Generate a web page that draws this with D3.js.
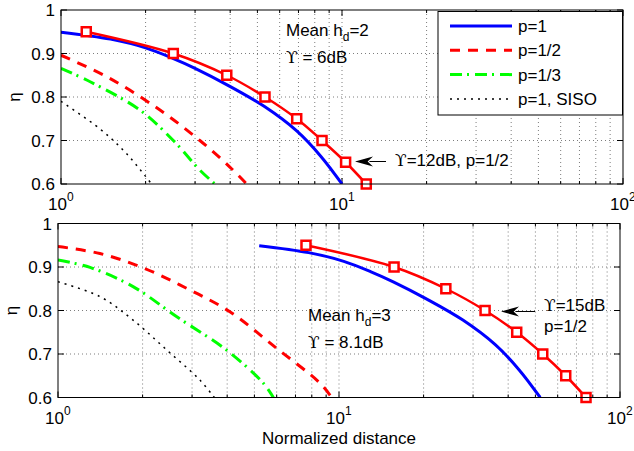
<!DOCTYPE html>
<html><head><meta charset="utf-8">
<script src="https://cdn.jsdelivr.net/npm/d3@7"></script>
<style>body{margin:0;background:#fff}svg{display:block}text{font-family:"Liberation Sans",Arial,Helvetica,sans-serif}.ups{font-family:"DejaVu Serif",serif}</style>
</head><body><svg id="c" width="634" height="451"></svg>
<script>
// ---- data ----
const yTicks = [0.6, 0.7, 0.8, 0.9, 1];
const yTickLabels = ["0.6", "0.7", "0.8", "0.9", "1"];
const xTicks = [1, 10, 100];
const xTickExp = ["0", "1", "2"];
const legendLabels = ["p=1", "p=1/2", "p=1/3", "p=1, SISO"];

// top panel (Mean h_d = 2)
const topBlueX = [1, 1.5, 2, 2.5, 3, 3.9, 5.3, 6.9, 8.4, 10];
const topBlueY = [0.949, 0.933, 0.913, 0.889, 0.866, 0.828, 0.778, 0.722, 0.664, 0.6];
const topMarkX = [1.23, 2.51, 3.89, 5.32, 6.9, 8.49, 10.3, 12.2];
const topMarkY = [0.95, 0.9, 0.85, 0.8, 0.75, 0.7, 0.65, 0.6];
const topRedX = [1, 1.49, 2.25, 3.12, 3.99, 4.58];
const topRedY = [0.896, 0.843, 0.77, 0.70, 0.639, 0.6];
const topGreenX = [1, 1.27, 1.91, 2.51, 3.12, 3.53];
const topGreenY = [0.866, 0.835, 0.77, 0.70, 0.632, 0.6];
const topBlackX = [1, 1.38, 1.71, 2.1];
const topBlackY = [0.79, 0.726, 0.67, 0.6];

// bottom panel (Mean h_d = 3)
const botBlueX = [5.2, 7.8, 10.4, 13.0, 15.6, 20.3, 27.6, 35.9, 43.7, 52.0];
const botBlueY = [0.949, 0.933, 0.913, 0.889, 0.866, 0.828, 0.778, 0.722, 0.664, 0.6];
const botMarkX = [7.63, 15.7, 24.0, 33.1, 42.9, 53.1, 64.1, 75.7];
const botMarkY = [0.95, 0.9, 0.85, 0.8, 0.75, 0.7, 0.65, 0.6];
const botRedX = [1, 1.41, 2.01, 2.87, 4.09, 6.0, 8.56, 9.42];
const botRedY = [0.947, 0.931, 0.898, 0.851, 0.797, 0.713, 0.633, 0.6];
const botGreenX = [1, 1.30, 1.85, 2.64, 3.98, 5.38, 5.84];
const botGreenY = [0.916, 0.899, 0.855, 0.786, 0.709, 0.633, 0.6];
const botBlackX = [1, 1.41, 1.85, 2.44, 3.2, 3.6];
const botBlackY = [0.866, 0.832, 0.778, 0.709, 0.64, 0.6];

const zip = (xs, ys) => xs.map((x, i) => [x, ys[i]]);

const svg = d3.select("#c");
const FONT = 17;

const styles = {
  blue: {stroke: "#0000ff", w: 3, dash: null},
  mark: {stroke: "#ff0000", w: 2.5, dash: null},
  red: {stroke: "#ff0000", w: 3, dash: "10,8"},
  green: {stroke: "#00ff00", w: 3, dash: "12,5,2,6"},
  black: {stroke: "#000000", w: 1.5, dash: "2,5"}
};

function panel(opt) {
  const {left, top, width, height, id} = opt;
  const g = svg.append("g");
  const x = d3.scaleLog().domain([1, 100]).range([left, left + width]);
  const y = d3.scaleLinear().domain([0.6, 1]).range([top + height, top]);

  svg.append("clipPath").attr("id", id).append("rect")
    .attr("x", left).attr("y", top).attr("width", width).attr("height", height);

  // grid
  const minor = [];
  for (const d of [1, 10]) for (let k = 2; k <= 9; k++) minor.push(d * k);
  const gridX = minor.concat([10]);
  const grid = g.append("g").attr("stroke", "#333").attr("stroke-width", 0.8)
    .attr("stroke-dasharray", "1,3").attr("opacity", 0.8);
  gridX.forEach(v => grid.append("line").attr("x1", x(v)).attr("x2", x(v))
    .attr("y1", top).attr("y2", top + height));
  [0.7, 0.8, 0.9].forEach(v => grid.append("line").attr("x1", left).attr("x2", left + width)
    .attr("y1", y(v)).attr("y2", y(v)));

  // ticks (inside, all four sides)
  const tk = g.append("g").attr("stroke", "#000").attr("stroke-width", 1);
  minor.forEach(v => {
    tk.append("line").attr("x1", x(v)).attr("x2", x(v)).attr("y1", top + height).attr("y2", top + height - 3);
    tk.append("line").attr("x1", x(v)).attr("x2", x(v)).attr("y1", top).attr("y2", top + 3);
  });
  xTicks.forEach(v => {
    tk.append("line").attr("x1", x(v)).attr("x2", x(v)).attr("y1", top + height).attr("y2", top + height - 6);
    tk.append("line").attr("x1", x(v)).attr("x2", x(v)).attr("y1", top).attr("y2", top + 6);
  });
  yTicks.forEach(v => {
    tk.append("line").attr("x1", left).attr("x2", left + 6).attr("y1", y(v)).attr("y2", y(v));
    tk.append("line").attr("x1", left + width).attr("x2", left + width - 6).attr("y1", y(v)).attr("y2", y(v));
  });

  // tick labels
  yTicks.forEach((v, i) => {
    g.append("text").attr("x", left - 6).attr("y", y(v)).attr("dy", "0.36em")
      .attr("text-anchor", "end").attr("font-size", FONT).text(yTickLabels[i]);
  });
  xTicks.forEach((v, i) => {
    const t = g.append("text").attr("x", x(v) - 13).attr("y", top + height + 26)
      .attr("text-anchor", "start").attr("font-size", FONT);
    t.append("tspan").text("10");
    t.append("tspan").attr("font-size", 12).attr("dy", -9).text(xTickExp[i]);
  });

  // y label
  g.append("text").attr("transform", `translate(${left - 41},${top + height / 2}) rotate(-90)`)
    .attr("text-anchor", "middle").attr("font-size", FONT).text("η");

  // curves
  const line = d3.line().x(d => x(d[0])).y(d => y(d[1])).curve(d3.curveCatmullRom.alpha(0.5));
  const cg = g.append("g").attr("clip-path", `url(#${id})`);
  opt.series.forEach(s => {
    const st = styles[s.style];
    const p = cg.append("path").attr("d", line(s.data)).attr("fill", "none")
      .attr("stroke", st.stroke).attr("stroke-width", st.w);
    if (st.dash) p.attr("stroke-dasharray", st.dash);
  });
  // markers
  const mg = g.append("g");
  opt.markers.forEach(d => {
    mg.append("rect").attr("x", x(d[0]) - 4.5).attr("y", y(d[1]) - 4.5)
      .attr("width", 9).attr("height", 9).attr("fill", "#fff")
      .attr("stroke", "#ff0000").attr("stroke-width", 2.5);
  });

  // box
  g.append("rect").attr("x", left).attr("y", top).attr("width", width).attr("height", height)
    .attr("fill", "none").attr("stroke", "#000").attr("stroke-width", 1);

  return {g, x, y};
}

function upsText(g, px, py, rest) {
  const t = g.append("text").attr("x", px).attr("y", py).attr("font-size", FONT);
  t.append("tspan").attr("class", "ups").text("ϒ");
  t.append("tspan").text(rest);
  return t;
}

function meanLabel(g, px, py, n, ups) {
  const t = g.append("text").attr("x", px).attr("y", py).attr("font-size", FONT);
  t.append("tspan").text("Mean h");
  t.append("tspan").attr("font-size", 12).attr("dy", 5).text("d");
  t.append("tspan").attr("dy", -5).text("=" + n);
  upsText(g, px, py + 27, " = " + ups);
}

function arrow(g, x1, x2, yy, hw, hl) {
  // x1 tail, x2 tip
  g.append("line").attr("x1", x1).attr("x2", x2 + hl * 0.8).attr("y1", yy).attr("y2", yy)
    .attr("stroke", "#000").attr("stroke-width", 1);
  g.append("path").attr("d", `M${x2},${yy} L${x2 + hl},${yy - hw} L${x2 + hl * 0.7},${yy} L${x2 + hl},${yy + hw} Z`)
    .attr("fill", "#000");
}

// ---- top panel ----
const T = panel({
  id: "clipT", left: 61, top: 10, width: 562, height: 174,
  series: [
    {style: "black", data: zip(topBlackX, topBlackY)},
    {style: "green", data: zip(topGreenX, topGreenY)},
    {style: "red", data: zip(topRedX, topRedY)},
    {style: "blue", data: zip(topBlueX, topBlueY)},
    {style: "mark", data: zip(topMarkX, topMarkY)}
  ],
  markers: zip(topMarkX, topMarkY)
});
meanLabel(T.g, 286, 36, 2, "6dB");
arrow(T.g, 386, 355, 161.5, 5, 18);
upsText(T.g, 395, 166, "=12dB, p=1/2");

// legend
const lg = T.g.append("g");
lg.append("rect").attr("x", 438).attr("y", 11.5).attr("width", 184.5).attr("height", 103.5)
  .attr("fill", "#fff").attr("stroke", "#000").attr("stroke-width", 1);
const legStyles = ["blue", "red", "green", "black"];
legendLabels.forEach((lab, i) => {
  const yy = 26 + i * 24.3;
  const st = styles[legStyles[i]];
  const l = lg.append("line").attr("x1", 450).attr("x2", 512).attr("y1", yy).attr("y2", yy)
    .attr("stroke", st.stroke).attr("stroke-width", st.w);
  if (st.dash) l.attr("stroke-dasharray", st.dash);
  lg.append("text").attr("x", 518).attr("y", yy).attr("dy", "0.36em").attr("font-size", FONT).text(lab);
});

// ---- bottom panel ----
const B = panel({
  id: "clipB", left: 58, top: 223.5, width: 562, height: 174,
  series: [
    {style: "black", data: zip(botBlackX, botBlackY)},
    {style: "green", data: zip(botGreenX, botGreenY)},
    {style: "red", data: zip(botRedX, botRedY)},
    {style: "blue", data: zip(botBlueX, botBlueY)},
    {style: "mark", data: zip(botMarkX, botMarkY)}
  ],
  markers: zip(botMarkX, botMarkY)
});
meanLabel(B.g, 308, 321, 3, "8.1dB");
arrow(B.g, 535, 501, 311.5, 5, 18);
upsText(B.g, 544, 311, "=15dB");
B.g.append("text").attr("x", 544).attr("y", 332).attr("font-size", FONT).text("p=1/2");

svg.append("text").attr("x", 339).attr("y", 444).attr("text-anchor", "middle")
  .attr("font-size", FONT).text("Normalized distance");
</script></body></html>
